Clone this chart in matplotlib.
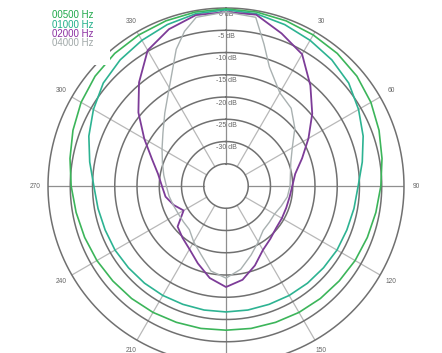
import numpy as np
import matplotlib
matplotlib.use("Agg")
import matplotlib.pyplot as plt
from matplotlib.patches import Rectangle

# angles in degrees (clockwise from top), levels in dB
ang_lo = list(range(0, 361, 10))
db_500 = [-0.2, -0.3, -0.5, -0.8, -1.1, -1.6, -2.4, -3.4, -4.4, -5.2,
          -5.8, -6.2, -6.5, -6.8, -7.0, -7.2, -7.4, -7.5, -7.6,
          -7.5, -7.4, -7.2, -7.0, -6.8, -6.5, -6.2, -5.8, -5.2,
          -4.4, -3.4, -2.4, -1.6, -1.1, -0.8, -0.5, -0.3, -0.2]
db_1000 = [-0.4, -0.7, -1.4, -2.2, -3.0, -4.0, -5.6, -7.2, -8.9, -10.3,
           -10.8, -11.1, -11.2, -11.4, -11.5, -11.6, -11.7, -11.7, -11.7,
           -11.7, -11.7, -11.6, -11.5, -11.4, -11.2, -11.1, -10.8, -10.3,
           -8.9, -7.2, -5.6, -4.0, -3.0, -2.2, -1.4, -0.7, -0.4]

ang_2000 = list(range(0, 361, 10))
db_2000 = [-0.9, -0.9, -3.5, -5.8, -10.5, -14.7, -18.6, -21.8, -24.2, -25.1,
           -25.5, -25.6, -25.5, -25.3, -24.5, -23.4, -21.0, -18.6, -17.3,
           -19.0, -21.5, -23.6, -24.8, -25.8, -29.0, -27.5, -26.2, -25.6,
           -24.5, -22.3, -18.8, -14.3, -9.6, -4.8, -2.5, -1.0, -0.9]

ang_4000 = [0, 10, 15, 20, 30, 40, 50, 60, 70, 80, 90, 100, 110, 120, 130, 140, 150,
            160, 170, 180, 190, 200, 210, 220, 230, 240, 250, 260, 270, 280, 290,
            300, 310, 320, 330, 340, 345, 350, 360]
db_4000 = [-0.9, -1.5, -7.0, -11.5, -15.8, -17.2, -19.8, -22.8, -24.5, -25.3, -25.6,
           -26.0, -26.8, -27.4, -27.3, -27.0, -25.5, -23.5, -21.0, -19.3, -20.6,
           -23.6, -25.5, -27.2, -27.5, -27.6, -27.4, -27.0, -26.6, -25.8, -24.8,
           -23.4, -21.5, -18.6, -14.5, -7.3, -4.0, -1.5, -0.9]

labels = ["00500 Hz", "01000 Hz", "02000 Hz", "04000 Hz"]
line_colors = ["#3cb55a", "#2db392", "#7d3c98", "#a9b1b1"]
line_widths = [1.2, 1.2, 1.3, 1.0]
text_colors = ["#1fa84a", "#1fae88", "#8a2fa0", "#a0a8a8"]

rings = [0, -5, -10, -15, -20, -25, -30, -35]
ring_labels = [0, -5, -10, -15, -20, -25, -30]
angle_labels = [30, 60, 90, 120, 150, 210, 240, 270, 300, 330]

fig = plt.figure(figsize=(4.42, 3.53), dpi=100)
fig.patch.set_facecolor("white")
ax = fig.add_axes([0.1086, -0.0312, 0.8054, 1.0085], projection="polar")
ax.set_theta_zero_location("N")
ax.set_theta_direction(-1)
ax.set_ylim(-40, 0)
ax.grid(False)
ax.set_xticks([])
ax.set_yticks([])
ax.spines["polar"].set_visible(False)

full = np.linspace(0, 2 * np.pi, 400)
for r in rings:
    ax.plot(full, np.full_like(full, r), color="#707070", lw=1.1, zorder=1, clip_on=False)

for a in range(0, 360, 30):
    c = "#8f8f8f" if a % 90 == 0 else "#b8b8b8"
    ax.plot([np.radians(a)] * 2, [-35, 0], color=c, lw=0.9, zorder=0.9)

for r in ring_labels:
    ax.text(0, r - 1.35, f"{r} dB", fontsize=5, color="#666666",
            family="Liberation Sans", ha="center", va="center", zorder=2)

for a in angle_labels:
    ax.text(np.radians(a), 2.8, str(a), fontsize=4.8, color="#666666",
            family="Liberation Sans", ha="center", va="center", clip_on=False)

series = [(ang_lo, db_500), (ang_lo, db_1000), (ang_2000, db_2000), (ang_4000, db_4000)]
for (a, d), c, w in zip(series, line_colors, line_widths):
    ax.plot(np.radians(a), d, color=c, lw=w, zorder=3, clip_on=False)

fig.add_artist(Rectangle((0, 1 - 65 / 353), 110 / 442, 65 / 353, transform=fig.transFigure,
                         facecolor="white", edgecolor="none", zorder=5))
for i, (lab, c) in enumerate(zip(labels, text_colors)):
    fig.text(52 / 442, 1 - (15 + 9.5 * i) / 353, lab, color=c, fontsize=7,
             family="Liberation Sans", ha="left", va="center", zorder=6)

fig.savefig("out.png", dpi=100)
